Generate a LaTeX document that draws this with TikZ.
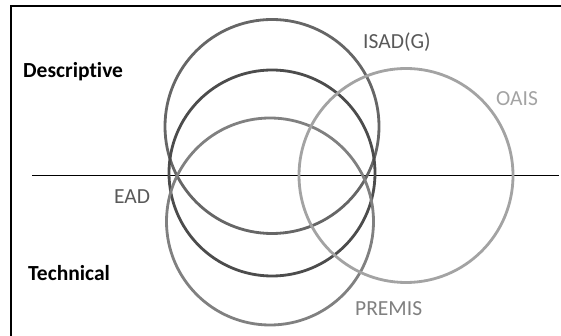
\documentclass[tikz,border=0pt]{standalone}
\usepackage{fontspec}
\setmainfont{Carlito}[Ligatures={TeX,NoCommon}]
\begin{document}
\begin{tikzpicture}[x=1pt,y=-1pt,
  ring/.style={circle, draw, line width=2.8pt, inner sep=0pt, minimum size=#1},
  lbl/.style={font=\fontsize{21.5}{24}\selectfont, inner sep=0pt},
  head/.style={font=\bfseries\fontsize{21.5}{24}\selectfont, inner sep=0pt, text=black}]
\useasboundingbox (0,0) rectangle (561,336);
\clip (0,0) rectangle (561,336);
\draw[line width=2pt] (11,6) rectangle (575,350);
\coordinate (hl) at (32,175.5);
\coordinate (hr) at (559,175.5);
\draw[line width=1.5pt] (hl) -- (hr);
\node[ring=214pt, draw=black!60] (isad) at (272,126.5) {};
\node[ring=206pt, draw=black!70] (ead) at (272,173) {};
\node[ring=207pt, draw=black!50] (premis) at (270,221.5) {};
\node[ring=214pt, draw=black!36] (oais) at (406,175.5) {};
\node[head, anchor=west] (desc) at (23,72) {Descriptive};
\node[head, anchor=west] (tech) at (28,273) {Technical};
\node[lbl, text=black!65, anchor=west] (eadl) at (114,197) {EAD};
\node[lbl, text=black!65, anchor=west] (isadl) at (363,42) {ISAD(G)};
\node[lbl, text=black!36, anchor=west] (oaisl) at (496,99) {OAIS};
\node[lbl, text=black!50, anchor=west] (premisl) at (355,309) {PREMIS};
\end{tikzpicture}
\end{document}
